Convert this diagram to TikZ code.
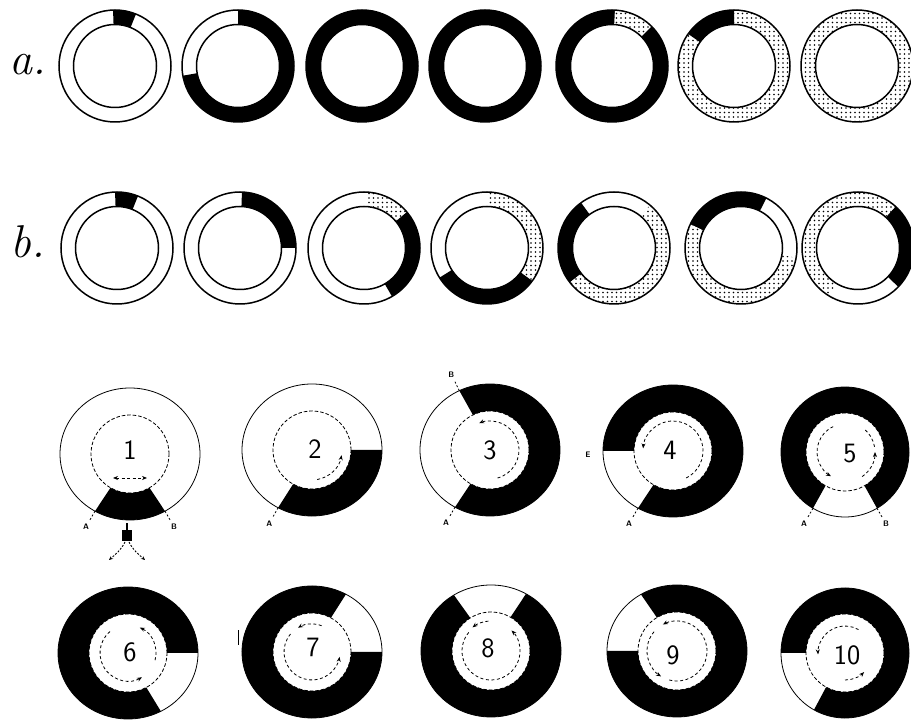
\documentclass[tikz,border=0pt]{standalone}
\usepackage{fontspec}
\usetikzlibrary{calc,patterns.meta,arrows.meta}
\tikzset{
  blk/.style={fill=black},
  dotseg/.style={preaction={fill=white},pattern={Dots[distance=4.5pt,radius=0.85pt]}},
  rimline/.style={line width=1.5pt},
  thinrim/.style={line width=0.8pt},
  innerdash/.style={line width=0.8pt,dash pattern=on 3.5pt off 2pt},
  motion/.style={line width=0.8pt,dash pattern=on 3pt off 2.5pt,-{Stealth[length=5pt,width=4pt]}},
  plainmotion/.style={line width=0.8pt,dash pattern=on 3pt off 2.5pt},
  ticker/.style={line width=0.8pt,dash pattern=on 2pt off 2pt},
  letterlbl/.style={font=\sffamily\bfseries\fontsize{8}{8}\selectfont,inner sep=0pt},
  numlbl/.style={font=\sffamily\fontsize{28}{28}\selectfont,inner sep=0pt},
  rowlbl/.style={font=\itshape\fontsize{46}{46}\selectfont,inner sep=0pt},
}
% top-row ring segment: [style]{centre}{from}{to}
\newcommand{\tseg}[4][blk]{\path[#1] (#2) ++(#3:56) arc[start angle=#3,end angle=#4,radius=56] -- ($(#2)+(#4:41.5)$) arc[start angle=#4,end angle=#3,radius=41.5] -- cycle;}
\newcommand{\trim}[1]{\draw[rimline] (#1) circle[radius=56] (#1) circle[radius=41.5];}
% bottom ring segment: [style]{centre}{from}{to}{rx}{ry}
\newcommand{\bseg}[6][blk]{\path[#1] (#2) ++(#3:#5 and #6) arc[start angle=#3,end angle=#4,x radius=#5,y radius=#6] -- ($(#2)+(#4:39)$) arc[start angle=#4,end angle=#3,radius=39] -- cycle;}
\newcommand{\brim}[3]{\draw[thinrim] (#1) ellipse[x radius=#2,y radius=#3]; \draw[innerdash] (#1) circle[radius=39];}
% motion arc: [style]{centre}{from}{to}{radius}
\newcommand{\marc}[5][motion]{\draw[#1] ($(#2)+(#3:#5)$) arc[start angle=#3,end angle=#4,radius=#5];}
% tick: {centre}{angle}{rx}{ry}{name}{text}
\newcommand{\rimtick}[6]{%
  \draw[ticker] ($(#1)+(#2:#3 and #4)$) -- ($(#1)+(#2:#3+10 and #4+10)$);
  \node[letterlbl] (#5) at ($(#1)+(#2:#3+18 and #4+18)$) {#6};}
\begin{document}
\begin{tikzpicture}[x=1pt,y=1pt]
\path[use as bounding box,fill=white] (0,0) rectangle (911,720);

% ---------------- centres
\coordinate (a1) at (115,654); \coordinate (a2) at (238,654); \coordinate (a3) at (362,654);
\coordinate (a4) at (485,654); \coordinate (a5) at (612,654); \coordinate (a6) at (734,654);
\coordinate (a7) at (857,654);
\coordinate (b1) at (117,472); \coordinate (b2) at (240,472); \coordinate (b3) at (364,472);
\coordinate (b4) at (487,472); \coordinate (b5) at (614,472); \coordinate (b6) at (741,472);
\coordinate (b7) at (858,472);
\coordinate (r1) at (130,266); \coordinate (r2) at (312,270); \coordinate (r3) at (490,270);
\coordinate (r4) at (673,269); \coordinate (r5) at (845,268);
\coordinate (r6) at (128,67); \coordinate (r7) at (312,68); \coordinate (r8) at (491,69);
\coordinate (r9) at (677,69); \coordinate (r10) at (845,67);

% ---------------- row labels
\node[rowlbl] (la) at (28,655) {a.};
\node[rowlbl] (lb) at (28,478) {b.};

% ---------------- row a
\tseg{a1}{68}{92}
\tseg{a2}{190}{450}
\tseg{a3}{0}{360}
\tseg{a4}{0}{360}
\tseg{a5}{0}{360} \tseg[dotseg]{a5}{45}{87}
\tseg[dotseg]{a6}{145}{450} \tseg{a6}{90}{145}
\tseg[dotseg]{a7}{0}{360}
\foreach \c in {a1,a2,a3,a4,a5,a6,a7} {\trim{\c}}

% ---------------- row b
\tseg{b1}{68}{92}
\tseg{b2}{0}{88}
\tseg[dotseg]{b3}{40}{88} \tseg{b3}{-60}{40}
\tseg[dotseg]{b4}{-36}{90} \tseg{b4}{212}{324}
\tseg{b5}{126}{218} \tseg[dotseg]{b5}{218}{410}
\tseg{b6}{63}{155} \tseg[dotseg]{b6}{155}{350}
\tseg{b7}{-44}{48} \tseg[dotseg]{b7}{48}{239}
\foreach \c in {b1,b2,b3,b4,b5,b6,b7} {\trim{\c}}

% ---------------- numbered rings, row 1
\brim{r1}{70}{66} \bseg{r1}{240}{300}{70}{66}
\brim{r2}{70}{66} \bseg{r2}{241}{360}{70}{66}
\brim{r3}{70}{66} \bseg{r3}{-120}{116}{70}{66}
\brim{r4}{70}{66} \bseg{r4}{240}{540}{70}{66}
\brim{r5}{64}{65} \bseg{r5}{-60}{240}{64}{65}
% ---------------- numbered rings, row 2
\brim{r6}{70}{66} \bseg{r6}{0}{298}{70}{66}
\brim{r7}{70}{66} \bseg{r7}{61}{360}{70}{66}
\brim{r8}{70}{66} \bseg{r8}{122}{420}{70}{66}
\brim{r9}{70}{66} \bseg{r9}{180}{481}{70}{66}
\brim{r10}{64}{65} \bseg{r10}{241}{540}{64}{65}

% numbers
\node[numlbl] (n1) at (130,270) {1};
\node[numlbl] (n2) at (315,271) {2};
\node[numlbl] (n3) at (490,270) {3};
\node[numlbl] (n4) at (670,270) {4};
\node[numlbl] (n5) at (850,266) {5};
\node[numlbl] (n6) at (130,68) {6};
\node[numlbl] (n7) at (313,73) {7};
\node[numlbl] (n8) at (488,72) {8};
\node[numlbl] (n9) at (673,65) {9};
\node[numlbl] (n10) at (847,65) {10};

% motion arrows
\coordinate (d1l) at (113,242); \coordinate (d1r) at (147,242);
\draw[motion,{Stealth[length=5pt,width=4pt]}-{Stealth[length=5pt,width=4pt]}] (d1l) -- (d1r);
\marc{r2}{-80}{-10}{30}
\marc{r3}{-75}{112}{29}
\marc{r4}{-64}{175}{30}
\marc{r5}{115}{240}{28} \marc{r5}{-55}{0}{30} \marc[plainmotion]{r5}{10}{50}{30}
\marc{r6}{-15}{65}{28} \marc{r6}{130}{300}{28}
\marc{r7}{70}{120}{28} \marc{r7}{140}{350}{28}
\marc{r8}{-100}{45}{29} \marc{r8}{95}{128}{30} \marc[plainmotion]{r8}{140}{255}{29}
\marc{r9}{-105}{118}{30} \marc{r9}{140}{238}{30}
\marc{r10}{60}{183}{27} \marc{r10}{270}{315}{27}

% ticks and letters
\rimtick{r1}{240}{70}{66}{t1a}{A}
\rimtick{r1}{300}{70}{66}{t1b}{B}
\rimtick{r2}{241}{70}{66}{t2a}{A}
\rimtick{r3}{116}{70}{66}{t3b}{B}
\rimtick{r3}{240}{70}{66}{t3a}{A}
\rimtick{r4}{240}{70}{66}{t4a}{A}
\node[letterlbl] (t4e) at (588,265) {E};
\rimtick{r5}{240}{64}{65}{t5a}{A}
\rimtick{r5}{300}{64}{65}{t5b}{B}

% small device below ring 1
\fill (122,179) rectangle (132,190);
\draw[line width=1.2pt] (127,190) -- (127,197);
\draw[line width=0.9pt,dash pattern=on 2pt off 1.5pt,-{Stealth[length=4pt,width=3.5pt]}] (125,178) .. controls (121,170) and (116,166) .. (109,160);
\draw[line width=0.9pt,dash pattern=on 2pt off 1.5pt,-{Stealth[length=4pt,width=3.5pt]}] (129,178) .. controls (133,170) and (138,166) .. (145,160);
% small stroke left of ring 7
\draw[line width=1pt] (238,75) -- (238,90);
\end{tikzpicture}
\end{document}
